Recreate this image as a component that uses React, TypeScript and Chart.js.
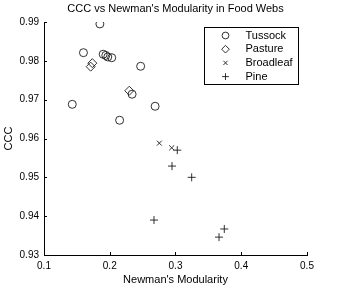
import React, { useEffect, useRef } from 'react';
import { Chart, registerables } from 'chart.js';

Chart.register(...registerables);

// ---- data ----
const chartTitle = "CCC vs Newman's Modularity in Food Webs";
const xAxisTitle = "Newman's Modularity";
const yAxisTitle = 'CCC';
const seriesNames = ['Tussock', 'Pasture', 'Broadleaf', 'Pine'];

const tussockX = [0.185, 0.160, 0.190, 0.194, 0.197, 0.203, 0.247, 0.143, 0.269, 0.215, 0.234];
const tussockY = [0.9895, 0.9821, 0.9817, 0.9814, 0.9810, 0.9808, 0.9786, 0.9688, 0.9683, 0.9647, 0.9714];
const pastureX = [0.1735, 0.171, 0.2297];
const pastureY = [0.9794, 0.9785, 0.9723];
const broadleafX = [0.2754, 0.2942];
const broadleafY = [0.9588, 0.9576];
const pineX = [0.3027, 0.2947, 0.3246, 0.2673, 0.3742, 0.3662];
const pineY = [0.9570, 0.9529, 0.9500, 0.9390, 0.9367, 0.9346];

const xTicks = [0.1, 0.2, 0.3, 0.4, 0.5];
const xTickLabels = ['0.1', '0.2', '0.3', '0.4', '0.5'];
const yTicks = [0.93, 0.94, 0.95, 0.96, 0.97, 0.98, 0.99];
const yTickLabels = ['0.93', '0.94', '0.95', '0.96', '0.97', '0.98', '0.99'];

const FONT = "'Liberation Sans', Arial, Helvetica, sans-serif";
const INK = '#000000';
const MARK = '#1a1a1a';

const toPoints = (xs: number[], ys: number[]) => xs.map((x, i) => ({ x, y: ys[i] }));

const markerStyles = ['circle', 'rectRot', 'crossRot', 'cross'];
const markerRadius = [4, 4.5, 3.5, 4];

function drawMarker(ctx: CanvasRenderingContext2D, style: string, x: number, y: number, r: number) {
  ctx.beginPath();
  if (style === 'circle') {
    ctx.arc(x, y, r, 0, Math.PI * 2);
  } else if (style === 'rectRot') {
    ctx.moveTo(x, y - r);
    ctx.lineTo(x + r, y);
    ctx.lineTo(x, y + r);
    ctx.lineTo(x - r, y);
    ctx.closePath();
  } else if (style === 'crossRot') {
    const d = r * Math.SQRT1_2;
    ctx.moveTo(x - d, y - d);
    ctx.lineTo(x + d, y + d);
    ctx.moveTo(x + d, y - d);
    ctx.lineTo(x - d, y + d);
  } else {
    ctx.moveTo(x - r, y);
    ctx.lineTo(x + r, y);
    ctx.moveTo(x, y - r);
    ctx.lineTo(x, y + r);
  }
  ctx.stroke();
}

const matlabPlugin = {
  id: 'matlabDecor',
  afterDraw(chart: any) {
    const { ctx, chartArea } = chart;
    const xs = chart.scales.x;
    const ys = chart.scales.y;
    ctx.save();
    ctx.strokeStyle = INK;
    ctx.lineWidth = 1;
    // inward ticks
    const tl = 3;
    ctx.beginPath();
    xTicks.forEach((v) => {
      const px = Math.round(xs.getPixelForValue(v)) + 0.5;
      ctx.moveTo(px, chartArea.bottom);
      ctx.lineTo(px, chartArea.bottom - tl);
    });
    yTicks.forEach((v) => {
      const py = Math.round(ys.getPixelForValue(v)) + 0.5;
      ctx.moveTo(chartArea.left, py);
      ctx.lineTo(chartArea.left + tl, py);
    });
    ctx.stroke();

    // title
    ctx.fillStyle = INK;
    ctx.font = `11px ${FONT}`;
    ctx.textAlign = 'center';
    ctx.textBaseline = 'middle';
    ctx.fillText(chartTitle, (chartArea.left + chartArea.right) / 2, 9);

    // legend box
    const bw = 94;
    const bh = 57;
    const bx = Math.round(chartArea.right - 9 - bw) + 0.5;
    const by = Math.round(chartArea.top + 5) + 0.5;
    ctx.fillStyle = '#ffffff';
    ctx.fillRect(bx, by, bw, bh);
    ctx.strokeStyle = INK;
    ctx.strokeRect(bx, by, bw, bh);
    ctx.textAlign = 'left';
    ctx.font = `11px ${FONT}`;
    seriesNames.forEach((name, i) => {
      const cy = by + 8 + i * 13.7;
      ctx.strokeStyle = MARK;
      ctx.lineWidth = 0.9;
      drawMarker(ctx, markerStyles[i], bx + 21, cy, markerRadius[i] * 0.85);
      ctx.fillStyle = INK;
      ctx.fillText(name, bx + 41, cy);
    });
    ctx.restore();
  },
};

export default function App() {
  const ref = useRef<HTMLCanvasElement | null>(null);
  useEffect(() => {
    if (!ref.current) return;
    const mk = (label: string, xs: number[], ys: number[], i: number) => ({
      label,
      data: toPoints(xs, ys),
      pointStyle: markerStyles[i],
      pointRadius: markerRadius[i],
      pointHoverRadius: markerRadius[i],
      pointBorderWidth: 0.9,
      borderColor: MARK,
      backgroundColor: 'rgba(0,0,0,0)',
      showLine: false,
    });
    const chart = new Chart(ref.current, {
      type: 'scatter',
      data: {
        datasets: [
          mk(seriesNames[0], tussockX, tussockY, 0),
          mk(seriesNames[1], pastureX, pastureY, 1),
          mk(seriesNames[2], broadleafX, broadleafY, 2),
          mk(seriesNames[3], pineX, pineY, 3),
        ],
      },
      options: {
        responsive: false,
        animation: false,
        devicePixelRatio: 1,
        layout: { padding: { top: 22, right: 32, left: 0, bottom: 0 } },
        plugins: {
          legend: { display: false },
          title: { display: false },
          tooltip: { enabled: false },
        },
        scales: {
          x: {
            type: 'linear',
            min: 0.1,
            max: 0.5,
            afterBuildTicks: (s: any) => { s.ticks = xTicks.map((v) => ({ value: v })); },
            afterFit: (s: any) => { s.height = 33; },
            grid: { display: true, drawOnChartArea: false, drawTicks: false },
            border: { display: true, color: INK, width: 1 },
            ticks: {
              autoSkip: false,
              maxRotation: 0,
              padding: 5,
              color: INK,
              font: { family: FONT, size: 10 },
              callback: (_v: any, i: number) => xTickLabels[i],
            },
            title: {
              display: true,
              text: xAxisTitle,
              color: INK,
              font: { family: FONT, size: 11 },
              padding: { top: 0, bottom: 1 },
            },
          },
          y: {
            type: 'linear',
            min: 0.93,
            max: 0.99,
            afterBuildTicks: (s: any) => { s.ticks = yTicks.map((v) => ({ value: v })); },
            afterFit: (s: any) => { s.width = 44; },
            grid: { display: true, drawOnChartArea: false, drawTicks: false },
            border: { display: true, color: INK, width: 1 },
            ticks: {
              autoSkip: false,
              padding: 5,
              color: INK,
              font: { family: FONT, size: 10 },
              callback: (_v: any, i: number) => yTickLabels[i],
            },
            title: {
              display: true,
              text: yAxisTitle,
              color: INK,
              font: { family: FONT, size: 11 },
              padding: { top: 2, bottom: 0 },
            },
          },
        },
      },
      plugins: [matlabPlugin],
    });
    return () => chart.destroy();
  }, []);
  return (
    <div style={{ position: 'absolute', left: 0, top: 0, width: 339, height: 288, background: '#fff' }}>
      <canvas ref={ref} width={339} height={288} style={{ display: 'block' }} />
    </div>
  );
}
